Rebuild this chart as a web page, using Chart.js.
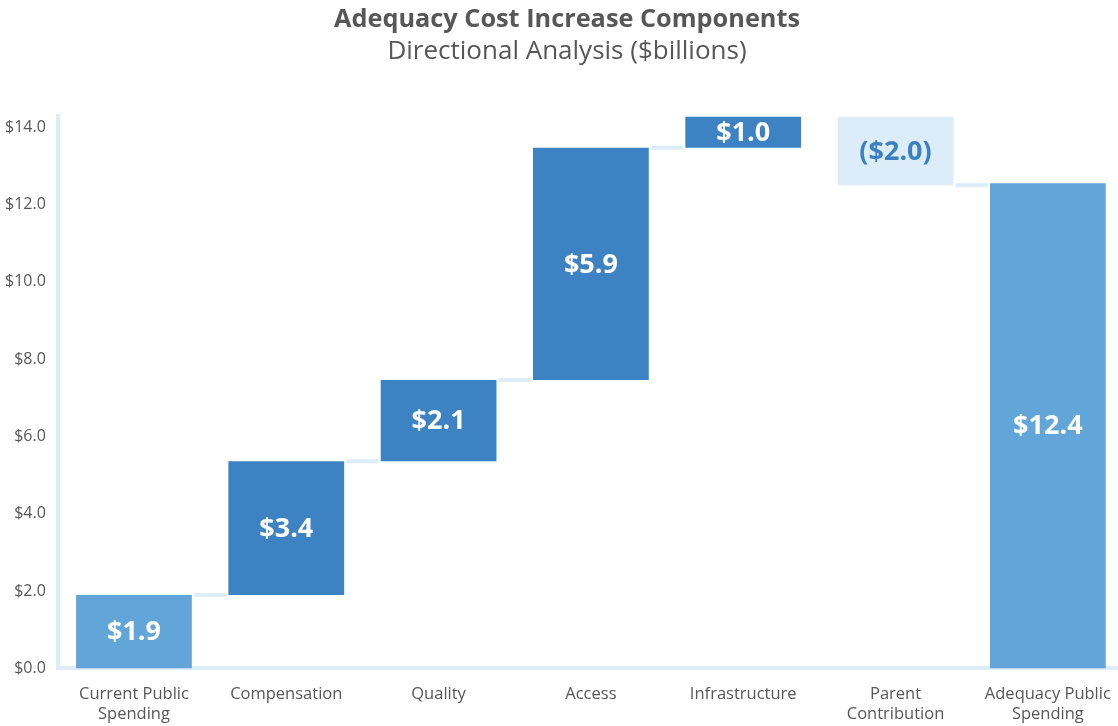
<!DOCTYPE html>
<html>
<head>
<meta charset="utf-8">
<script src="https://cdn.jsdelivr.net/npm/chart.js@4.4.1/dist/chart.umd.min.js"></script>
<style>
  html, body { margin: 0; padding: 0; background: #ffffff; overflow: hidden; }
  #wrap { width: 1134px; height: 726px; position: relative; }
</style>
</head>
<body>
<div id="wrap"><canvas id="c"></canvas></div>
<script>
const categories = [
  ['Current Public', 'Spending'],
  'Compensation',
  'Quality',
  'Access',
  'Infrastructure',
  ['Parent', 'Contribution'],
  ['Adequacy Public', 'Spending']
];
const barStart = [0, 1.9, 5.36, 7.46, 13.47, 14.27, 0];
const barEnd   = [1.9, 5.36, 7.46, 13.47, 14.27, 12.5, 12.55];
const valueLabels = ['$1.9', '$3.4', '$2.1', '$5.9', '$1.0', '($2.0)', '$12.4'];
const yTicks = [0, 2, 4, 6, 8, 10, 12, 14];

const FONT = '"Open Sans", "Noto Sans", sans-serif';
const TEXT = '#575757';
const LIGHT = '#dcedf9';
const TITLE_CENTER = 567;
const barColors = ['#62a5d9', '#3d82c3', '#3d82c3', '#3d82c3', '#3d82c3', LIGHT, '#62a5d9'];
const labelColors = ['#ffffff', '#ffffff', '#ffffff', '#ffffff', '#ffffff', '#3b80c2', '#ffffff'];

const titleShiftPlugin = {
  id: 'titleShift',
  afterLayout(chart) {
    chart.boxes.forEach(b => {
      if (b.position === 'top' && b.options && b.options.text) {
        const d = TITLE_CENTER - (b.left + b.right) / 2;
        b.left += d; b.right += d;
      }
    });
  }
};

const connectorPlugin = {
  id: 'connectors',
  beforeDatasetsDraw(chart) {
    const meta = chart.getDatasetMeta(0);
    const y = chart.scales.y;
    const ctx = chart.ctx;
    ctx.save();
    ctx.strokeStyle = LIGHT;
    ctx.lineWidth = 4;
    for (let i = 0; i < meta.data.length - 1; i++) {
      if (i === 4) continue;
      const a = meta.data[i], b = meta.data[i + 1];
      const py = y.getPixelForValue(barEnd[i]);
      ctx.beginPath();
      ctx.moveTo(a.x + a.width / 2 + 2, py);
      ctx.lineTo(b.x - b.width / 2 - 2, py);
      ctx.stroke();
    }
    ctx.restore();
  }
};

const labelPlugin = {
  id: 'barLabels',
  afterDatasetsDraw(chart) {
    const meta = chart.getDatasetMeta(0);
    const ctx = chart.ctx;
    ctx.save();
    ctx.font = 'bold 27px ' + FONT;
    ctx.textAlign = 'center';
    ctx.textBaseline = 'middle';
    meta.data.forEach((el, i) => {
      ctx.fillStyle = labelColors[i];
      ctx.fillText(valueLabels[i], el.x, (el.y + el.base) / 2 + 1);
    });
    ctx.restore();
  }
};

new Chart(document.getElementById('c'), {
  type: 'bar',
  data: {
    labels: categories,
    datasets: [{
      data: barStart.map((s, i) => [s, barEnd[i]]),
      backgroundColor: barColors,
      borderWidth: 0,
      barPercentage: 0.76,
      categoryPercentage: 1.0
    }]
  },
  options: {
    responsive: true,
    maintainAspectRatio: false,
    animation: false,
    layout: { padding: { left: -7, right: 10, bottom: -14, top: 0 } },
    plugins: {
      legend: { display: false },
      tooltip: { enabled: false },
      title: {
        display: true,
        text: 'Adequacy Cost Increase Components',
        color: TEXT,
        font: { family: FONT, size: 25.3, weight: 'bold', lineHeight: 1.2 },
        padding: { top: 5, bottom: 0 }
      },
      subtitle: {
        display: true,
        text: 'Directional Analysis ($billions)',
        color: TEXT,
        font: { family: FONT, size: 26, weight: 'normal', lineHeight: 1.2 },
        padding: { top: 1, bottom: 48 }
      }
    },
    scales: {
      x: {
        grid: { display: false, drawTicks: false },
        border: { display: true, color: LIGHT, width: 4 },
        ticks: {
          color: TEXT,
          font: { family: FONT, size: 16.5, lineHeight: 1.2 },
          padding: 16,
          maxRotation: 0,
          autoSkip: false
        }
      },
      y: {
        min: 0,
        max: 14.3,
        grid: { display: false, drawTicks: false },
        border: { display: true, color: LIGHT, width: 4 },
        afterBuildTicks(scale) {
          scale.ticks = yTicks.map(v => ({ value: v }));
        },
        ticks: {
          color: TEXT,
          font: { family: FONT, size: 16 },
          padding: 12,
          callback: v => '$' + Number(v).toFixed(1)
        }
      }
    }
  },
  plugins: [titleShiftPlugin, connectorPlugin, labelPlugin]
});
</script>
</body>
</html>
